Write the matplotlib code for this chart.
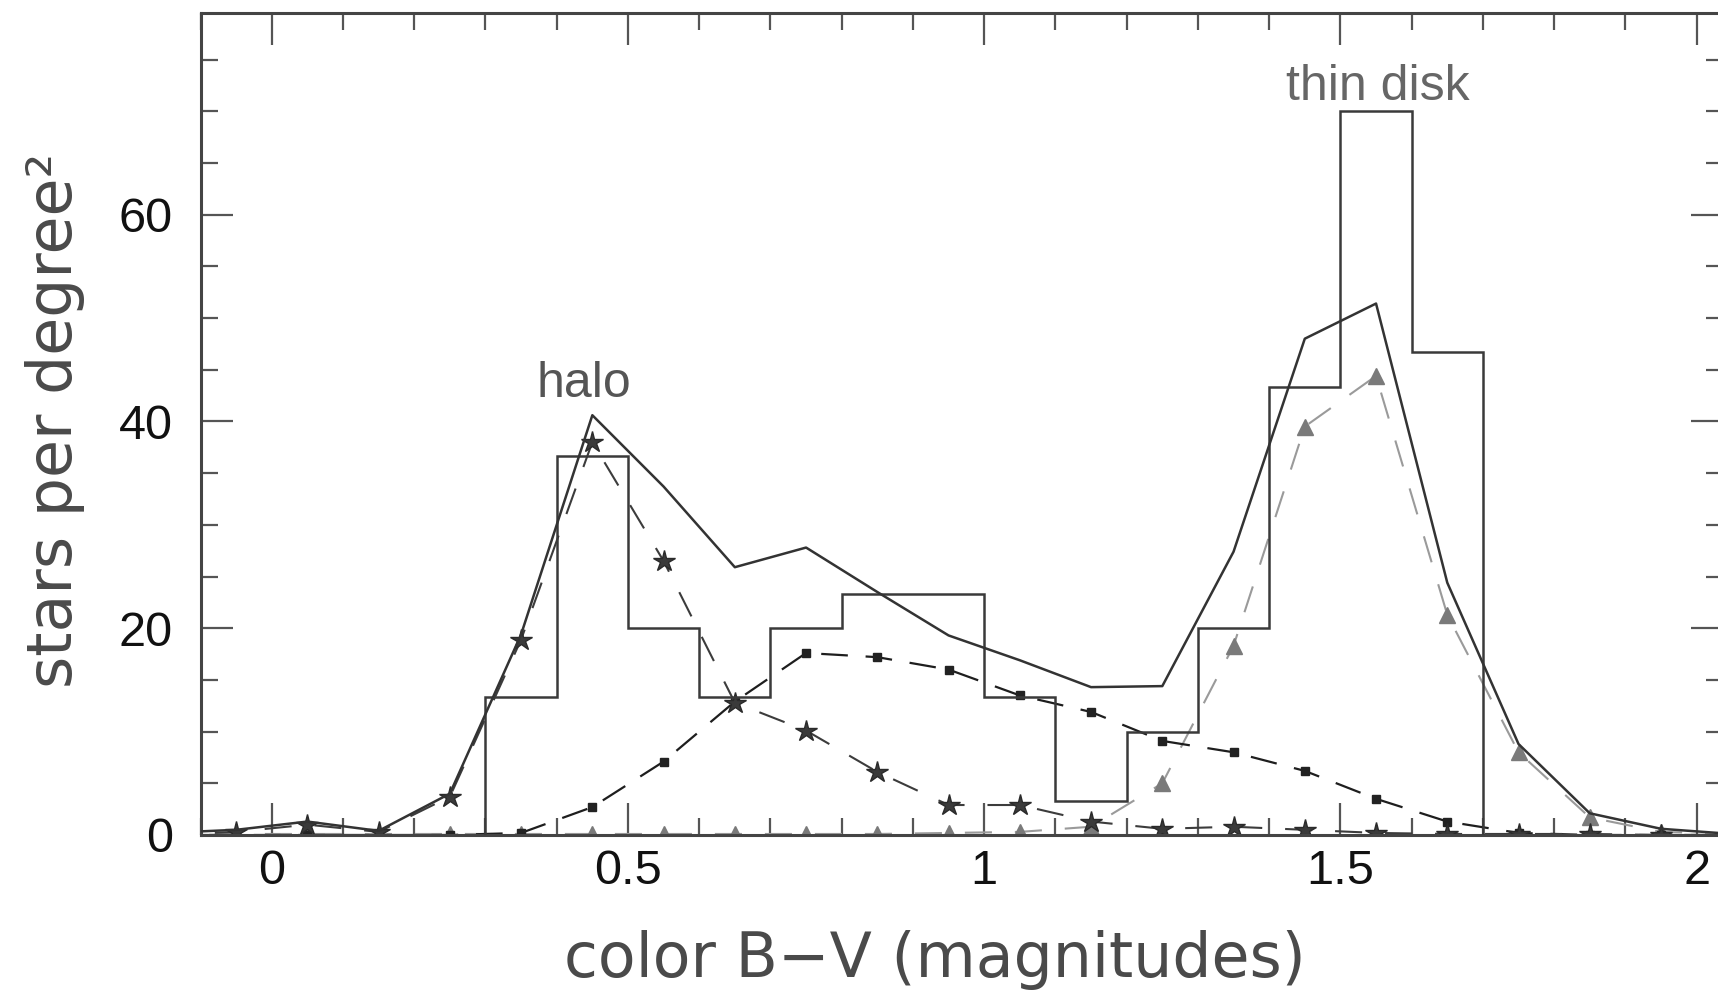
import matplotlib
matplotlib.use("Agg")
import matplotlib.pyplot as plt
from matplotlib.ticker import MultipleLocator

# Model colour grid (B-V bin centres)
bv = [-0.15, -0.05, 0.05, 0.15, 0.25, 0.35, 0.45, 0.55, 0.65, 0.75, 0.85,
      0.95, 1.05, 1.15, 1.25, 1.35, 1.45, 1.55, 1.65, 1.75, 1.85, 1.95, 2.05]

# Model star counts per square degree
total = [0.2, 0.5, 1.3, 0.4, 4.0, 19.4, 40.6, 33.7, 25.9, 27.8, 23.5,
         19.3, 16.9, 14.3, 14.4, 27.4, 48.0, 51.4, 24.4, 8.8, 2.1, 0.6, 0.1]
halo = [0.0, 0.3, 1.0, 0.3, 3.7, 18.9, 38.0, 26.5, 12.8, 10.1, 6.1,
        2.9, 2.9, 1.3, 0.6, 0.8, 0.5, 0.2, 0.1, 0.1, 0.1, 0.0, 0.0]
thick_disk = [0.0, 0.0, 0.0, 0.0, 0.0, 0.2, 2.7, 7.1, 12.9, 17.6, 17.2,
              16.0, 13.5, 11.9, 9.1, 8.0, 6.2, 3.5, 1.3, 0.2, 0.0, 0.0, 0.0]
thin_disk = [0.1, 0.1, 0.1, 0.1, 0.1, 0.1, 0.1, 0.1, 0.1, 0.1, 0.1,
             0.2, 0.3, 0.8, 5.0, 18.3, 39.5, 44.4, 21.3, 8.0, 1.7, 0.3, 0.1]

# Observed counts (histogram)
hist_edges = [0.3, 0.4, 0.5, 0.6, 0.7, 0.8, 0.9, 1.0, 1.1, 1.2, 1.3, 1.4,
              1.5, 1.6, 1.7]
hist_counts = [13.3, 36.7, 20.0, 13.3, 20.0, 23.3, 23.3, 13.3, 3.3, 10.0,
               20.0, 43.3, 70.0, 46.7]

W, H, DPI = 1718, 992, 100
fig = plt.figure(figsize=(W / DPI, H / DPI), dpi=DPI)
left, right, top, bottom = 200.5, 1723, 13, 835
ax = fig.add_axes([left / W, 1 - bottom / H, (right - left) / W, (bottom - top) / H])

dark = "#333333"

ax.stairs(hist_counts, hist_edges, baseline=0, fill=False, color="#3a3a3a", lw=1.8, zorder=3)

ax.plot(bv, thin_disk, color="#9a9a9a", lw=1.5, dashes=(13, 11), zorder=2,
        marker="^", ms=11, mfc="#7a7a7a", mec="#7a7a7a")
ax.plot(bv, thick_disk, color="#1e1e1e", lw=1.6, dashes=(12, 8), zorder=2,
        marker="s", ms=5.5, mfc="#222222", mec="#222222")
ax.plot(bv, halo, color="#3c3c3c", lw=1.5, dashes=(13, 11), zorder=2,
        marker="*", ms=16, mfc="#3a3a3a", mec="#2a2a2a")
ax.plot(bv, total, color=dark, lw=1.8, zorder=4)

ax.set_xlim(-0.1, 2.037)
ax.set_ylim(0, 79.5)

ax.xaxis.set_major_locator(MultipleLocator(0.5))
ax.xaxis.set_minor_locator(MultipleLocator(0.1))
ax.yaxis.set_major_locator(MultipleLocator(20))
ax.yaxis.set_minor_locator(MultipleLocator(5))
ax.xaxis.set_major_formatter(plt.FuncFormatter(lambda v, p: f"{v:g}"))

ax.tick_params(which="both", direction="in", top=True, right=True, color="#555555", width=1.6)
ax.tick_params(which="major", length=23)
ax.tick_params(which="minor", length=12)
ax.tick_params(axis="x", which="major", pad=10)
ax.tick_params(axis="y", which="major", pad=20)
for lab in ax.get_xticklabels() + ax.get_yticklabels():
    lab.set_fontfamily("Liberation Sans")
    lab.set_fontsize(35)
    lab.set_color("#111111")

for side, sp in ax.spines.items():
    sp.set_color("#444444")
    sp.set_linewidth(2.2)
ax.spines["right"].set_visible(False)

ax.text(0.438, 42.4, "halo", ha="center", va="baseline", fontsize=36,
        family="Liberation Sans", color="#555555")
ax.text(1.552, 71.1, "thin disk", ha="center", va="baseline", fontsize=36,
        family="Liberation Sans", color="#666666")

fig.text(935 / W, 15 / H, "color B\u2212V (magnitudes)", ha="center", va="baseline",
         fontsize=44.5, family="DejaVu Sans", color="#4a4a4a")
fig.text(72 / W, 1 - 420 / H, "stars per degree\u00b2", rotation=90, rotation_mode="anchor",
         ha="center", va="baseline", fontsize=44.5, family="DejaVu Sans", color="#4a4a4a")

fig.savefig("out.png", dpi=DPI)
